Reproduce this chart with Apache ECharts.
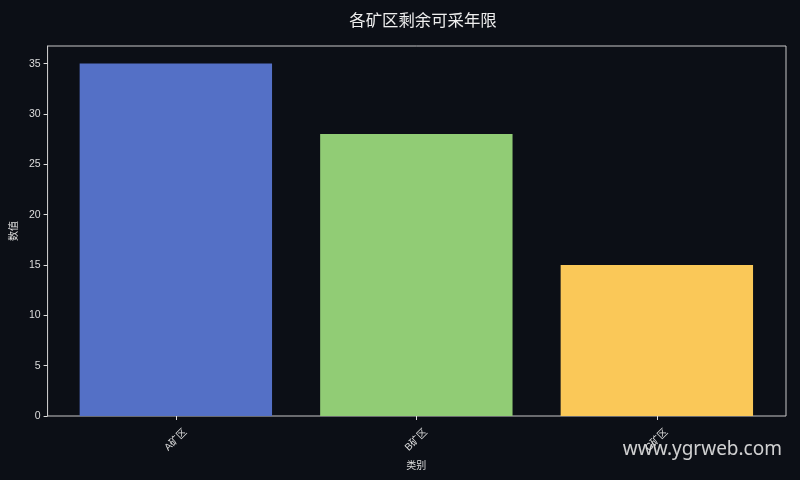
<!DOCTYPE html>
<html>
<head>
<meta charset="utf-8">
<script src="https://cdn.jsdelivr.net/npm/echarts@6/dist/echarts.min.js"></script>
<style>html,body{margin:0;padding:0;background:#0c0f16;}#c{width:800px;height:480px;}</style>
</head>
<body>
<div id="c"></div>
<script>
const categories = ['A矿区', 'B矿区', 'C矿区'];
const values = [35, 28, 15];
const colors = ['#5470c6', '#91cc75', '#fac858'];
const yTicks = [0, 5, 10, 15, 20, 25, 30, 35];

const chart = echarts.init(document.getElementById('c'));
const cjk = '"Noto Sans CJK SC", "Liberation Sans", sans-serif';
const latin = '"Liberation Sans", "Noto Sans CJK SC", sans-serif';
const yMax = 36.75;
chart.setOption({
  backgroundColor: '#0c0f16',
  animation: false,
  title: {
    text: '各矿区剩余可采年限',
    left: 418, top: 7, textAlign: 'center',
    textStyle: { color: '#eeeeee', fontSize: 16.4, fontWeight: 'normal', fontFamily: cjk }
  },
  grid: [
    { left: 46, right: 14, top: 46, bottom: 64, show: true, borderColor: '#c8c8c8', borderWidth: 1, backgroundColor: 'transparent' },
    { left: 55.6, right: 22.9, top: 46, bottom: 64 }
  ],
  xAxis: [
    { gridIndex: 0, type: 'value', min: 0, max: 1, show: false },
    {
      gridIndex: 1, type: 'category', data: categories,
      name: '类别', nameLocation: 'middle', nameGap: 40,
      nameTextStyle: { color: '#dddddd', fontSize: 10, fontFamily: cjk },
      axisLine: { show: false },
      axisTick: { show: true, alignWithLabel: true, length: 4, lineStyle: { color: '#dddddd' } },
      axisLabel: {
        interval: 0, rotate: 45, color: '#dddddd', fontSize: 10, fontFamily: latin,
        align: 'center', verticalAlign: 'middle', margin: 24
      },
      splitLine: { show: false }
    }
  ],
  yAxis: [
    {
      gridIndex: 0, type: 'value', min: 0, max: yMax,
      name: '数值', nameLocation: 'middle', nameGap: 28,
      nameTextStyle: { color: '#dddddd', fontSize: 10, fontFamily: cjk },
      axisLine: { show: true, lineStyle: { color: '#c8c8c8' } },
      axisTick: { show: true, customValues: yTicks, length: 4, lineStyle: { color: '#dddddd' } },
      axisLabel: { customValues: yTicks, color: '#dddddd', fontSize: 10.5, fontFamily: latin, margin: 7 },
      splitLine: { show: false }
    },
    { gridIndex: 1, type: 'value', min: 0, max: yMax, show: false }
  ],
  series: [{
    type: 'bar',
    xAxisIndex: 1, yAxisIndex: 1,
    barWidth: '80%',
    data: values.map((v, i) => ({ value: v, itemStyle: { color: colors[i] } }))
  }],
  graphic: [{
    type: 'text', right: 18, top: 440,
    style: { text: 'www.ygrweb.com', fill: 'rgba(230,230,230,0.9)', fontSize: 19, fontFamily: '"Noto Sans", sans-serif' }
  }]
});
</script>
</body>
</html>
